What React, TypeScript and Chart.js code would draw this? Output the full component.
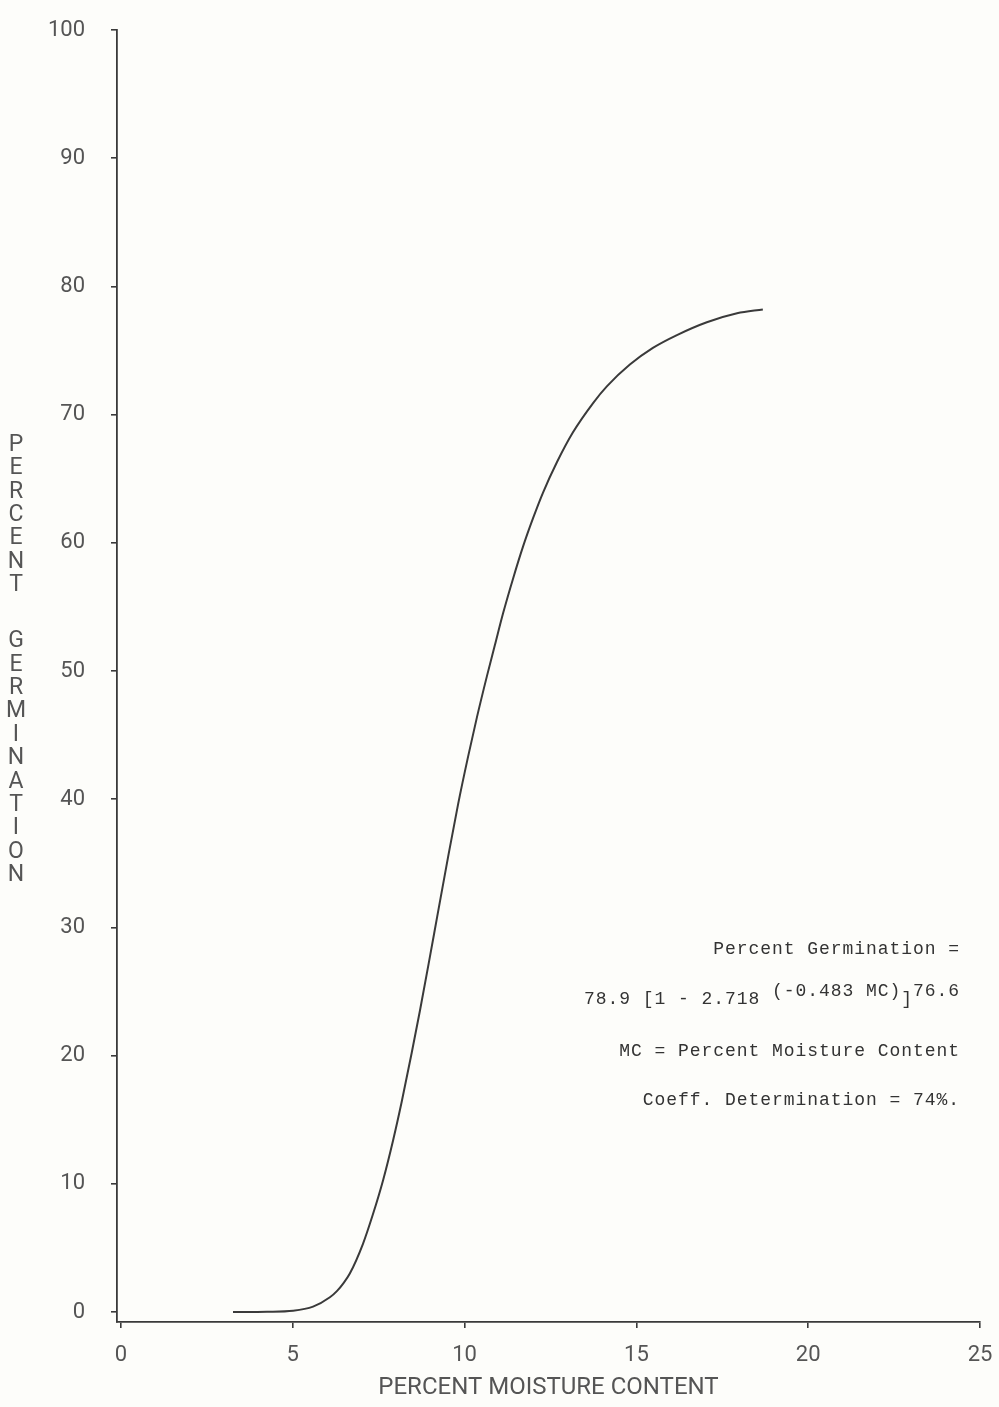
import React, { useEffect, useRef } from "react";
import { Chart, registerables } from "chart.js";

Chart.register(...registerables);

// ---- data ----
const moisture = [
  3.26, 4.25, 5.01, 5.59, 6.08, 6.29, 6.46, 6.66, 7.04, 7.33, 7.63, 7.92, 8.17, 8.46, 8.7,
  8.99, 9.2, 9.52, 9.81, 10.1, 10.36, 10.65, 10.88, 11.12, 11.41, 11.7, 11.99, 12.28, 12.69,
  13.15, 13.74, 14.14, 14.81, 15.48, 16.18, 17.05, 17.93, 18.68,
];
const germination = [
  0, 0.02, 0.1, 0.42, 1.15, 1.65, 2.2, 3.0, 5.3, 7.6, 10.3, 13.4, 16.4, 20.2, 23.5,
  27.7, 30.8, 35.5, 39.6, 43.3, 46.4, 49.6, 52.0, 54.5, 57.2, 59.7, 61.9, 63.9, 66.3,
  68.6, 70.9, 72.2, 73.9, 75.2, 76.2, 77.2, 77.9, 78.2,
];
const xTickValues = [0, 5, 10, 15, 20, 25];
const yTickValues = [0, 10, 20, 30, 40, 50, 60, 70, 80, 90, 100];
const xAxisTitle = "PERCENT MOISTURE CONTENT";
const yAxisTitle = "PERCENT GERMINATION";
const equationTitle = "Percent Germination =";
const equationParts = [
  { text: "78.9 [1 - 2.718 ", sup: false },
  { text: "(-0.483 MC)", sup: true },
  { text: "]", sup: false },
  { text: "76.6", sup: true },
];
const mcNote = "MC = Percent Moisture Content";
const coeffNote = "Coeff. Determination = 74%.";

const INK = "#3a3a3a";
const LABEL = "#555555";
const SANS = "Roboto, 'DejaVu Sans', sans-serif";
const MONO = "'Liberation Mono', 'DejaVu Sans Mono', monospace";

const backgroundPlugin = {
  id: "paperBackground",
  beforeDraw(chart: any) {
    const { ctx, width, height } = chart;
    ctx.save();
    ctx.fillStyle = "#fdfdfa";
    ctx.fillRect(0, 0, width, height);
    ctx.restore();
  },
};

const verticalTitlePlugin = {
  id: "stackedYTitle",
  afterDraw(chart: any) {
    const { ctx } = chart;
    ctx.save();
    ctx.font = `23px ${SANS}`;
    ctx.fillStyle = LABEL;
    ctx.textAlign = "center";
    ctx.textBaseline = "middle";
    let y = 445;
    const step = 23.4;
    for (const ch of yAxisTitle) {
      if (ch === " ") {
        y += 56 - step;
        continue;
      }
      ctx.fillText(ch, 16, y);
      y += step;
    }
    ctx.restore();
  },
};

const equationPlugin = {
  id: "equationNote",
  afterDraw(chart: any) {
    const { ctx } = chart;
    const right = chart.chartArea.right - 20;
    ctx.save();
    ctx.font = `18px ${MONO}`;
    try {
      (ctx as any).letterSpacing = "0.95px";
    } catch (e) {}
    ctx.fillStyle = "#333333";
    ctx.textBaseline = "middle";
    ctx.textAlign = "left";
    const drawRight = (text: string, y: number) => {
      const w = ctx.measureText(text).width;
      ctx.fillText(text, right - w, y);
    };
    drawRight(equationTitle, 949);
    let total = 0;
    for (const p of equationParts) total += ctx.measureText(p.text).width;
    let x = right - total;
    for (const p of equationParts) {
      ctx.fillText(p.text, x, p.sup ? 991 : 999);
      x += ctx.measureText(p.text).width;
    }
    drawRight(mcNote, 1051);
    drawRight(coeffNote, 1100);
    ctx.restore();
  },
};

export default function App() {
  const canvasRef = useRef<HTMLCanvasElement | null>(null);

  useEffect(() => {
    if (!canvasRef.current) return;
    const chart = new Chart(canvasRef.current, {
      type: "line",
      data: {
        datasets: [
          {
            data: moisture.map((m, i) => ({ x: m, y: germination[i] })),
            borderColor: INK,
            borderWidth: 2,
            pointRadius: 0,
            fill: false,
            cubicInterpolationMode: "monotone",
          },
        ],
      },
      options: {
        responsive: true,
        maintainAspectRatio: false,
        animation: false,
        layout: { padding: { top: 30, right: 19, left: 0, bottom: 0 } },
        plugins: { legend: { display: false }, tooltip: { enabled: false } },
        scales: {
          x: {
            type: "linear",
            min: -0.116,
            max: 25,
            afterBuildTicks: (s: any) => {
              s.ticks = xTickValues.map((v) => ({ value: v }));
            },
            afterFit: (s: any) => {
              s.height = 85;
            },
            grid: { drawOnChartArea: false, drawTicks: true, tickLength: 6, color: INK, lineWidth: 1.6 },
            border: { display: true, color: INK, width: 1.8 },
            ticks: {
              font: { family: SANS, size: 22, lineHeight: 2.5 },
              color: LABEL,
              padding: 0,
              maxRotation: 0,
              autoSkip: false,
            },
            title: {
              display: true,
              text: xAxisTitle,
              font: { family: SANS, size: 24 },
              color: LABEL,
              padding: { top: 0, bottom: 5 },
            },
          },
          y: {
            type: "linear",
            min: -0.78,
            max: 100,
            afterBuildTicks: (s: any) => {
              s.ticks = yTickValues.map((v) => ({ value: v }));
            },
            afterFit: (s: any) => {
              s.width = 117;
            },
            grid: { drawOnChartArea: false, drawTicks: true, tickLength: 6, color: INK, lineWidth: 1.6 },
            border: { display: true, color: INK, width: 1.8 },
            ticks: {
              font: { family: SANS, size: 22, lineHeight: 0.2 },
              color: LABEL,
              padding: 26,
              autoSkip: false,
            },
          },
        },
      } as any,
      plugins: [backgroundPlugin, verticalTitlePlugin, equationPlugin],
    });
    return () => chart.destroy();
  }, []);

  return (
    <div style={{ position: "fixed", left: 0, top: 0, width: 999, height: 1407 }}>
      <canvas ref={canvasRef} style={{ display: "block" }} />
    </div>
  );
}
